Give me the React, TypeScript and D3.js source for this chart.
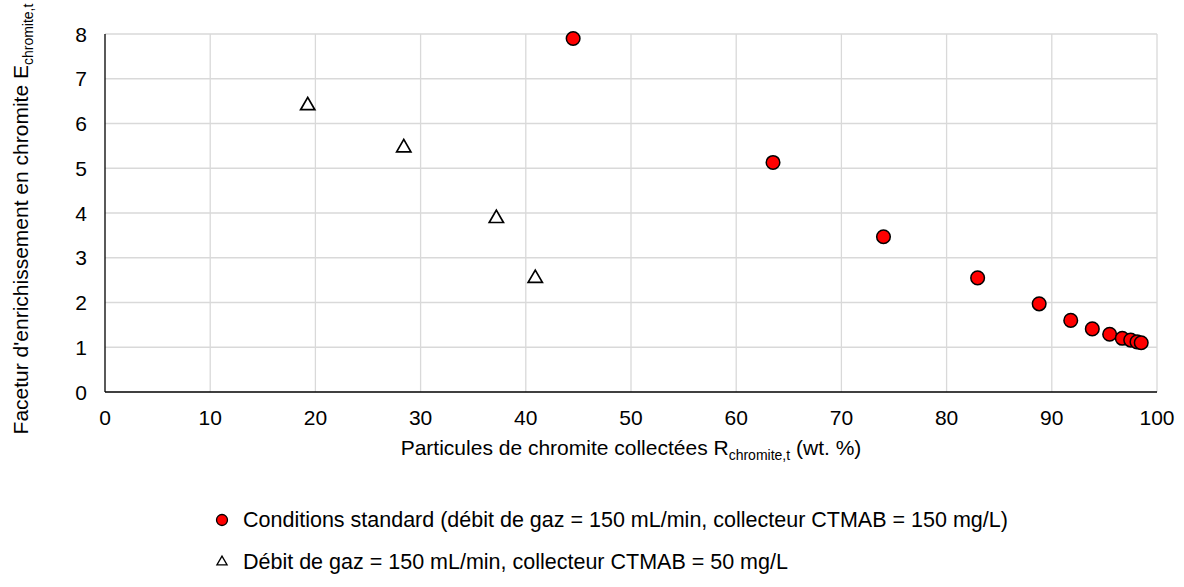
import React from "react";
import * as d3 from "d3";

const standardX = [44.5, 63.5, 74.0, 82.95, 88.8, 91.8, 93.85, 95.5, 96.7, 97.5, 98.1, 98.5];
const standardY = [7.9, 5.13, 3.47, 2.55, 1.97, 1.6, 1.41, 1.29, 1.2, 1.16, 1.12, 1.1];
const lowX = [19.27, 28.4, 37.2, 40.9];
const lowY = [6.4, 5.46, 3.88, 2.54];
const xTicks = [0, 10, 20, 30, 40, 50, 60, 70, 80, 90, 100];
const yTicks = [0, 1, 2, 3, 4, 5, 6, 7, 8];
const legendLabels = [
  "Conditions standard (débit de gaz = 150 mL/min, collecteur CTMAB = 150 mg/L)",
  "Débit de gaz = 150 mL/min, collecteur CTMAB = 50 mg/L",
];

const W = 1184;
const H = 587;
const FONT = "'Liberation Sans', Arial, sans-serif";
const FS = 21;

export default function App() {
  const x = d3.scaleLinear().domain([0, 100]).range([105, 1157]);
  const y = d3.scaleLinear().domain([0, 8]).range([392, 34]);
  const tri = d3.symbol().type(d3.symbolTriangle).size(88)();

  return (
    <svg
      width={W}
      height={H}
      style={{ position: "absolute", left: 0, top: 0, background: "#fff" }}
      fontFamily={FONT}
    >
      {/* grid */}
      {xTicks.slice(1).map((t) => (
        <line key={"gx" + t} x1={x(t)} x2={x(t)} y1={y(0)} y2={y(8)} stroke="#d9d9d9" strokeWidth={1.3} />
      ))}
      {yTicks.slice(1).map((t) => (
        <line key={"gy" + t} x1={x(0)} x2={x(100)} y1={y(t)} y2={y(t)} stroke="#d9d9d9" strokeWidth={1.3} />
      ))}
      {/* axes */}
      <line x1={x(0)} x2={x(0)} y1={y(0)} y2={y(8)} stroke="#000" strokeWidth={1.3} />
      <line x1={x(0)} x2={x(100)} y1={y(0)} y2={y(0)} stroke="#000" strokeWidth={1.3} />
      {/* tick labels */}
      {xTicks.map((t) => (
        <text key={"xt" + t} x={x(t)} y={y(0) + 33} textAnchor="middle" fontSize={FS} fill="#000">
          {t}
        </text>
      ))}
      {yTicks.map((t) => (
        <text key={"yt" + t} x={87} y={y(t) + 7.5} textAnchor="end" fontSize={FS} fill="#000">
          {t}
        </text>
      ))}
      {/* axis titles */}
      <text x={x(50)} y={455} textAnchor="middle" fontSize={FS} fill="#000">
        Particules de chromite collectées R
        <tspan fontSize={14} dy={5}>chromite,t</tspan>
        <tspan dy={-5}> (wt. %)</tspan>
      </text>
      <text
        transform={`translate(28,219) rotate(-90)`}
        textAnchor="middle"
        fontSize={21}
        fill="#000"
      >
        Facetur d'enrichissement en chromite E
        <tspan fontSize={14} dy={5}>chromite,t</tspan>
      </text>
      {/* low collector triangles */}
      {lowX.map((v, i) => (
        <path
          key={"tr" + i}
          d={tri as string}
          transform={`translate(${x(v)},${y(lowY[i])})`}
          fill="#fff"
          stroke="#000"
          strokeWidth={1.7}
        />
      ))}
      {/* standard circles */}
      {standardX.map((v, i) => (
        <circle key={"c" + i} cx={x(v)} cy={y(standardY[i])} r={6.8} fill="#ff0000" stroke="#000" strokeWidth={1.5} />
      ))}
      {/* legend */}
      <circle cx={222} cy={520} r={5.5} fill="#ff0000" stroke="#000" strokeWidth={1.3} />
      <text x={243} y={527} fontSize={21.5} fill="#000">{legendLabels[0]}</text>
      <path
        d={d3.symbol().type(d3.symbolTriangle).size(45)() as string}
        transform="translate(222,562)"
        fill="#fff"
        stroke="#000"
        strokeWidth={1.3}
      />
      <text x={243} y={569} fontSize={21.5} fill="#000">{legendLabels[1]}</text>
    </svg>
  );
}
